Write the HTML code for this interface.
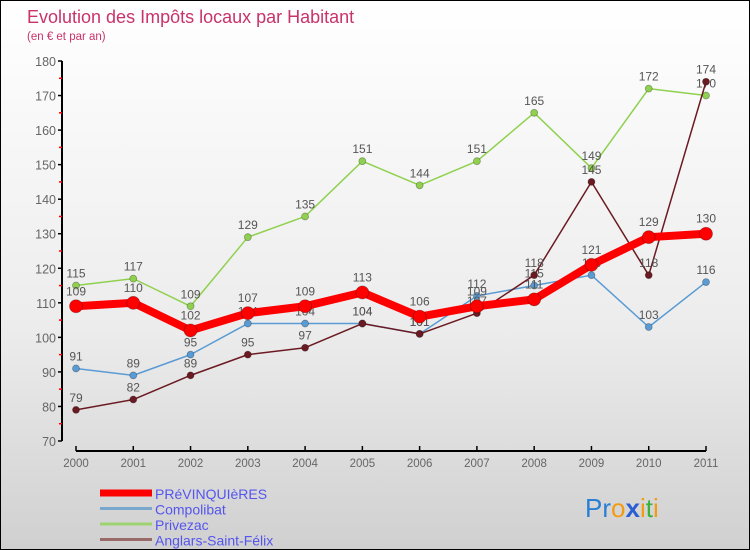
<!DOCTYPE html>
<html><head><meta charset="utf-8"><style>
body{margin:0;}
#c{width:750px;height:550px;position:relative;overflow:hidden;font-family:"Liberation Sans",sans-serif;
background:linear-gradient(#ffffff 0%,#ececec 60%,#d0d0d0 100%);border:1px solid #000;box-sizing:border-box;}
svg{position:absolute;left:0;top:0}
</style></head><body>
<div id="c">
<svg id="s" width="750" height="550">
<text x="26" y="22" font-size="18" fill="#c8336a">Evolution des Impôts locaux par Habitant</text>
<text x="26" y="39" font-size="11.5" fill="#c8336a">(en € et par an)</text>
<g id="axes"></g><g id="series"></g><g id="legend"></g>
<text x="584" y="516" font-size="26"><tspan fill="#2a7fd4">Pr</tspan><tspan fill="#f39c12">o</tspan><tspan fill="#2a5fd4" font-weight="bold">x</tspan><tspan fill="#f39c12">i</tspan><tspan fill="#3bb03b">t</tspan><tspan fill="#f39c12">i</tspan></text>
</svg></div>
<script>
const years=["2000","2001","2002","2003","2004","2005","2006","2007","2008","2009","2010","2011"];
const yTicks=[70,80,90,100,110,120,130,140,150,160,170,180];
const prev=[109,110,102,107,109,113,106,109,111,121,129,130];
const compo=[91,89,95,104,104,104,101,112,115,118,103,116];
const privezac=[115,117,109,129,135,151,144,151,165,149,172,170];
const anglars=[79,82,89,95,97,104,101,107,118,145,118,174];
const NS="http://www.w3.org/2000/svg";
const X=i=>75+i*(630/11);
const Y=v=>440-(v-70)*(380/110);
function mk(tag,attrs,parent){const e=document.createElementNS(NS,tag);for(const k in attrs)e.setAttribute(k,attrs[k]);parent.appendChild(e);return e;}
const ax=document.getElementById('axes');
let l=mk('line',{x1:61,y1:60,x2:61,y2:440,stroke:'#000','stroke-width':2},ax);


l=mk('line',{x1:75,y1:450,x2:705,y2:450,stroke:'#000','stroke-width':2},ax);


yTicks.forEach((v,i)=>{
 mk('line',{x1:57,y1:Y(v),x2:61,y2:Y(v),stroke:'#000','stroke-width':1.5},ax);
 if(i<yTicks.length-1)mk('line',{x1:58,y1:Y(v+5),x2:61,y2:Y(v+5),stroke:'#f00','stroke-width':1.5},ax);
 const t=mk('text',{x:55,y:Y(v)+5,'font-size':12.5,fill:'#666','text-anchor':'end'},ax);t.textContent=v;
 
 
});
years.forEach((y,i)=>{
 mk('line',{x1:X(i),y1:445,x2:X(i),y2:450,stroke:'#000','stroke-width':1.5},ax);
 const t=mk('text',{x:X(i),y:466,'font-size':11.5,fill:'#666','text-anchor':'middle'},ax);t.textContent=y;
 
 
});
const sg=document.getElementById('series');
function draw(data,color,w,r,name,labelDy){
 const g=mk('g',{},sg);
 
 
 mk('polyline',{points:data.map((v,i)=>X(i)+','+Y(v)).join(' '),fill:'none',stroke:color,'stroke-width':w,'stroke-linejoin':'round'},g);
 data.forEach((v,i)=>{
  const c=mk('circle',{cx:X(i),cy:Y(v),r:r,fill:color,stroke:'rgba(0,0,0,0.3)','stroke-width':0.8},g);
  
  
  const t=mk('text',{x:X(i),y:Y(v)-labelDy,'font-size':12,fill:'#555','text-anchor':'middle'},g);t.textContent=v;
  
  
 });
}
draw(privezac,'#8fd14f',1.5,3.5,'series-privezac',8);
draw(compo,'#5a9bd4',1.5,3.5,'series-compolibat',8);
draw(anglars,'#6b1a22',1.5,3.5,'series-anglars',8);
draw(prev,'#f00',8,6.5,'series-previnquieres',11);
const lg=document.getElementById('legend');
const items=[['PRéVINQUIèRES','#f00',7],['Compolibat','#7aa8cc',3],['Privezac','#9ed470',3],['Anglars-Saint-Félix','#9a6a6a',3]];
items.forEach((it,i)=>{
 const y=492+i*15.5;
 mk('line',{x1:99,y1:y,x2:151,y2:y,stroke:it[1],'stroke-width':it[2]},lg);
 const t=mk('text',{x:154,y:y+6,'font-size':14,fill:'#5555ee'},lg);t.textContent=it[0];
 
 
});
</script>
</body></html>
